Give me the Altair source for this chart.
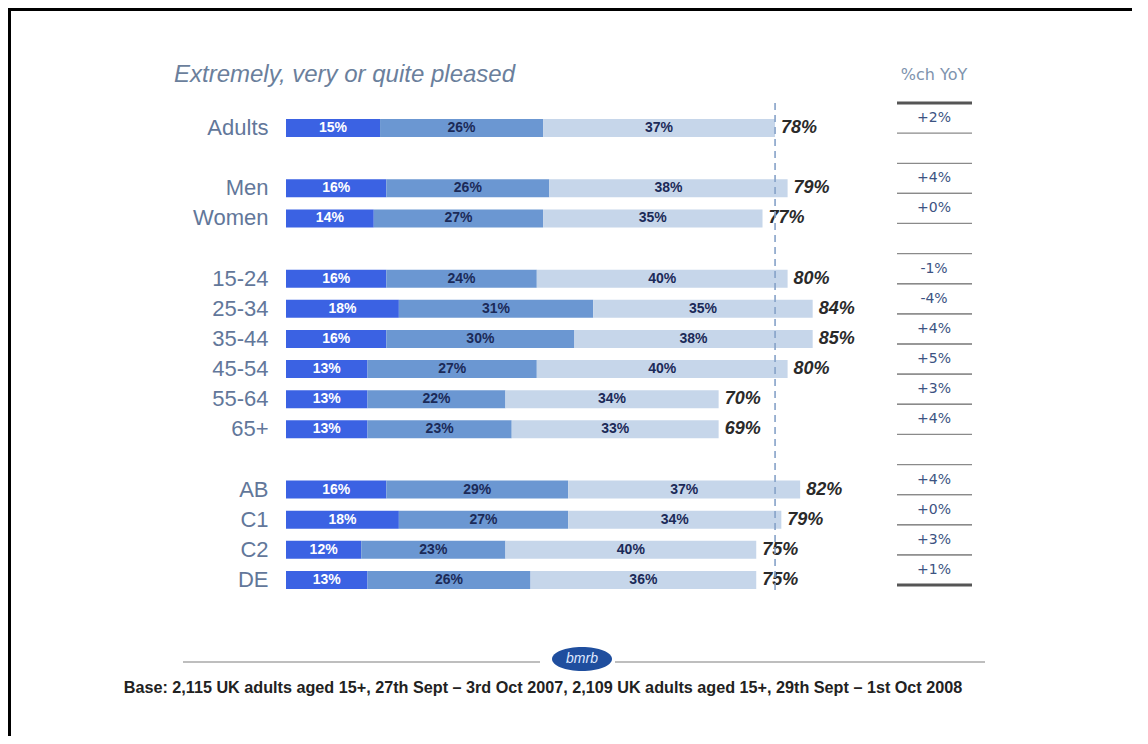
import altair as alt
import pandas as pd

# ---------------- data ----------------
groups = ["Adults", "Men", "Women", "15-24", "25-34", "35-44", "45-54",
          "55-64", "65+", "AB", "C1", "C2", "DE"]
extremely = [15, 16, 14, 16, 18, 16, 13, 13, 13, 16, 18, 12, 13]
very = [26, 26, 27, 24, 31, 30, 27, 22, 23, 29, 27, 23, 26]
quite = [37, 38, 35, 40, 35, 38, 40, 34, 33, 37, 34, 40, 36]
totals = ["78%", "79%", "77%", "80%", "84%", "85%", "80%", "70%", "69%",
          "82%", "79%", "75%", "75%"]
yoy = ["+2%", "+4%", "+0%", "-1%", "-4%", "+4%", "+5%", "+3%", "+4%",
       "+4%", "+0%", "+3%", "+1%"]
row_order = ["Adults", " ", "Men", "Women", "  ", "15-24", "25-34", "35-44",
             "45-54", "55-64", "65+", "   ", "AB", "C1", "C2", "DE"]
levels = ["Extremely pleased", "Very pleased", "Quite pleased"]
colors = ["#3b62e3", "#6b97d2", "#c6d6ea"]
label_colors = ["#ffffff", "#1b2a58", "#1b2a58"]

title_text = "Extremely, very or quite pleased"
yoy_header = "%ch YoY"
footer_text = ("Base: 2,115 UK adults aged 15+, 27th Sept \u2013 3rd Oct 2007, "
               "2,109 UK adults aged 15+, 29th Sept \u2013 1st Oct 2008")
logo_text = "bmrb"

# ---------------- tables ----------------
seg_rows = []
tot_rows = []
for i, g in enumerate(groups):
    start = 0
    for lev, val, lc in zip(levels, [extremely[i], very[i], quite[i]], label_colors):
        seg_rows.append({"group": g, "level": lev, "start": start,
                         "end": start + val, "mid": start + val / 2,
                         "label": f"{val}%", "tcolor": lc})
        start += val
    tot_rows.append({"group": g, "end": start, "total": totals[i], "yoy": yoy[i]})
seg = pd.DataFrame(seg_rows)
tot = pd.DataFrame(tot_rows)
ref = pd.DataFrame({"ref": [tot.loc[0, "end"]]})

FONT = "Liberation Sans"
XS = alt.Scale(domain=[0, 100])


def ydef():
    return alt.Y(
        "group:N",
        sort=row_order,
        scale=alt.Scale(domain=row_order, paddingInner=0.4, paddingOuter=0.2),
        axis=alt.Axis(title=None, domain=False, ticks=False, labelPadding=18,
                      labelFontSize=22, labelColor="#62779a", labelFont=FONT,
                      grid=False),
    )


bars = alt.Chart(seg).mark_bar().encode(
    x=alt.X("start:Q", scale=XS, axis=None),
    x2="end:Q",
    y=ydef(),
    color=alt.Color("level:N", scale=alt.Scale(domain=levels, range=colors), legend=None),
)

seg_labels = alt.Chart(seg).mark_text(fontSize=14, fontWeight="bold", font=FONT).encode(
    x=alt.X("mid:Q", scale=XS, axis=None),
    y=ydef(),
    text="label:N",
    color=alt.Color("tcolor:N", scale=None),
)

tot_labels = alt.Chart(tot).mark_text(
    fontSize=18, fontWeight="bold", fontStyle="italic", align="left", dx=6,
    color="#2a2a2a", font=FONT
).encode(
    x=alt.X("end:Q", scale=XS, axis=None),
    y=ydef(),
    text="total:N",
)

ref_rule = alt.Chart(ref).mark_rule(strokeDash=[7, 5], color="#86a2c8", strokeWidth=1.6).encode(
    x=alt.X("ref:Q", scale=XS, axis=None),
    y=alt.value(-10),
    y2=alt.value(477),
)

# YoY column
yoy_text = alt.Chart(tot).mark_text(
    fontSize=14, font="DejaVu Sans", color="#3c5382", dy=-10
).encode(x=alt.value(648), y=ydef(), text="yoy:N")

yoy_top = alt.Chart(tot).mark_rule(color="#8a8a8a", strokeWidth=1.3, yOffset=-25).encode(
    x=alt.value(611), x2=alt.value(686), y=ydef())
yoy_bot = alt.Chart(tot).mark_rule(color="#8a8a8a", strokeWidth=1.3, yOffset=5).encode(
    x=alt.value(611), x2=alt.value(686), y=ydef())
yoy_thick_top = alt.Chart(tot.iloc[[0]]).mark_rule(color="#555555", strokeWidth=3, yOffset=-25).encode(
    x=alt.value(611), x2=alt.value(686), y=ydef())
yoy_thick_bot = alt.Chart(tot.iloc[[-1]]).mark_rule(color="#555555", strokeWidth=3, yOffset=5).encode(
    x=alt.value(611), x2=alt.value(686), y=ydef())

one = pd.DataFrame({"t": [title_text], "h": [yoy_header], "f": [footer_text], "l": [logo_text]})

title = alt.Chart(one).mark_text(
    fontSize=24, fontStyle="italic", color="#6b7f9c", align="left", baseline="middle", font=FONT
).encode(x=alt.value(-112), y=alt.value(-38), text="t:N")

header = alt.Chart(one).mark_text(
    fontSize=16, color="#7e93ad", align="center", baseline="middle", font="DejaVu Sans"
).encode(x=alt.value(648), y=alt.value(-38), text="h:N")

foot_l = alt.Chart(one).mark_rule(color="#a8a8a8", strokeWidth=1.5).encode(
    x=alt.value(-103), x2=alt.value(254), y=alt.value(549))
foot_r = alt.Chart(one).mark_rule(color="#a8a8a8", strokeWidth=1.5).encode(
    x=alt.value(329), x2=alt.value(699), y=alt.value(549))

logo = alt.Chart(one).mark_point(
    shape="M-1,0 A1,0.4 0 1,0 1,0 A1,0.4 0 1,0 -1,0 Z",
    filled=True, size=3600, color="#1f4e9e", opacity=1
).encode(x=alt.value(296), y=alt.value(546))
logo_t = alt.Chart(one).mark_text(
    fontSize=14, fontStyle="italic", color="#dfe8ff", font=FONT
).encode(x=alt.value(296), y=alt.value(546), text="l:N")

footer = alt.Chart(one).mark_text(
    fontSize=16.2, fontWeight="bold", color="#222222", align="center", baseline="middle", font=FONT
).encode(x=alt.value(257), y=alt.value(575), text="f:N")

# slide frame (left and top edges) as thin filled rectangles
border_l = alt.Chart(one).mark_rect(color="#000000").encode(
    x=alt.value(-278), x2=alt.value(-275), y=alt.value(-105), y2=alt.value(623))
border_t = alt.Chart(one).mark_rect(color="#000000").encode(
    x=alt.value(-278), x2=alt.value(846), y=alt.value(-105), y2=alt.value(-102))

chart = alt.layer(
    bars, seg_labels, tot_labels, ref_rule,
    yoy_top, yoy_bot, yoy_thick_top, yoy_thick_bot, yoy_text,
    title, header, foot_l, foot_r, logo, logo_t, footer, border_l, border_t
).properties(
    width=627, height=482,
    autosize="none",
    padding={"left": 278, "top": 105, "right": 227, "bottom": 141},
    background="#ffffff",
).configure(font=FONT).configure_view(stroke=None)

chart.save("out.html", embed_options={"renderer": "svg", "actions": False})
